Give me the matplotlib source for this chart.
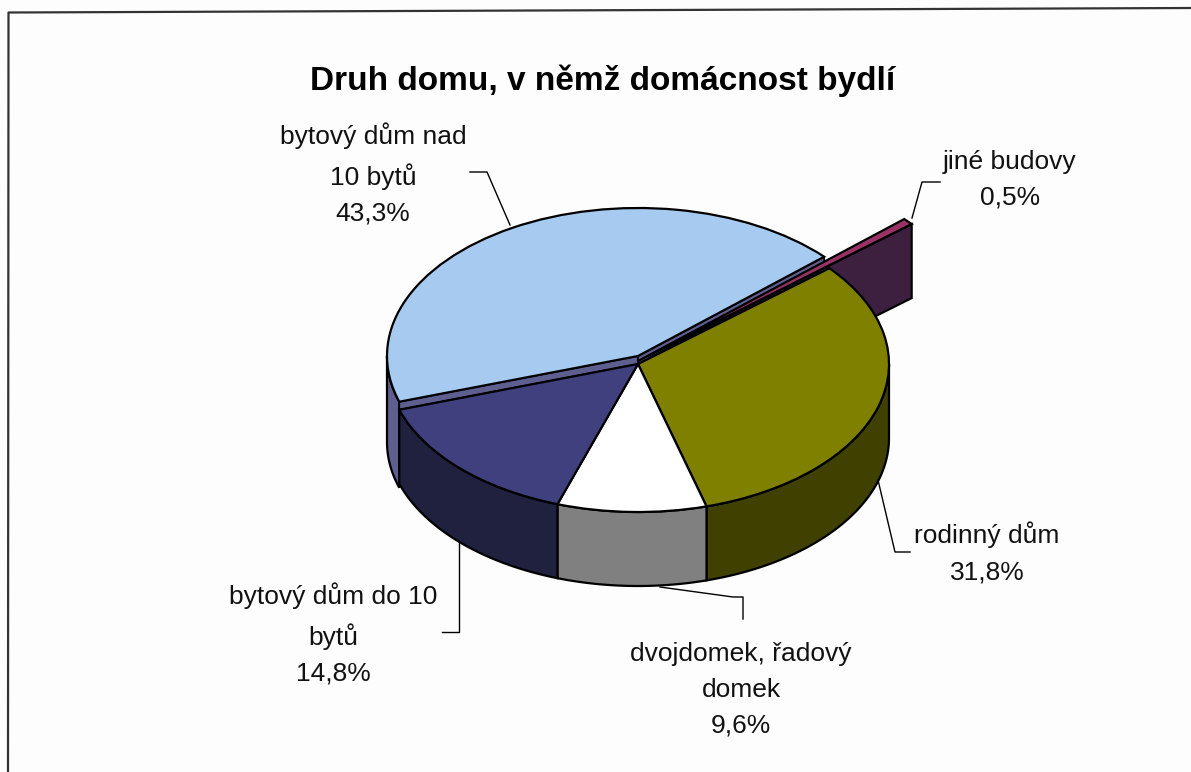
import numpy as np
from matplotlib import pyplot as plt
from matplotlib.lines import Line2D

title = 'Druh domu, v němž domácnost bydlí'
names = ['bytový dům nad\n10 bytů', 'jiné budovy', 'rodinný dům',
         'dvojdomek, řadový\ndomek', 'bytový dům do 10\nbytů']
shares = [43.3, 0.5, 31.8, 9.6, 14.8]
top_colors = ['#a6caf0', '#993366', '#808000', '#ffffff', '#40407f']
wall_colors = ['#5f5f8f', '#3d1f40', '#404000', '#808080', '#20203f']

W, H = 1191, 772
cx, cy = 638, 364       # pie centre, pixels
rx, ry = 251, 148       # pie radii, pixels
depth = 74 / ry
blue_lift = 8 / ry
sliver_lift = 3 / ry
sliver_r = 1.43


def fig_xy(px, py):
    return px / W, 1 - py / H


fig = plt.figure(figsize=(W / 100, H / 100), dpi=100, facecolor='#fdfdfd')
ax = fig.add_axes([0, 0, 1, 1])

wedges, _ = ax.pie(shares, startangle=198, counterclock=False, colors=top_colors,
                   wedgeprops={'edgecolor': 'black', 'linewidth': 1.6})
ax.set_aspect('auto')
ax.set_xlim(-cx / rx, (W - cx) / rx)
ax.set_ylim((cy - H) / ry, cy / ry)
ax.patch.set_visible(False)

blue, sliver = wedges[0], wedges[1]
blue.set_center((0, blue_lift))
sliver.set_center((0, sliver_lift))
sliver.set_radius(sliver_r)
for w in wedges:
    w.set_zorder(3)
sliver.set_zorder(4)


def front_arc(a, b, y0, d):
    # parts of the rim that face the viewer
    for lo, hi in [(-180, 0), (180, 360)]:
        s, e = max(a, lo), min(b, hi)
        if s < e:
            t = np.radians(np.linspace(s, e, 60))
            xs, ys = np.cos(t), np.sin(t) + y0
            yield (np.r_[xs, xs[::-1]], np.r_[ys, ys[::-1] - d])


for w, c in zip(wedges, wall_colors):
    if w is sliver:
        continue
    y0 = blue_lift if w is blue else 0
    d = depth + 12 / ry if w is blue else depth
    for xs, ys in front_arc(w.theta1, w.theta2, y0, d):
        ax.fill(xs, ys, facecolor=c, edgecolor='black', linewidth=1.6, zorder=2)

# slate bands under both straight edges of the light blue slice
for ang in [blue.theta1, blue.theta2]:
    t = np.radians(ang)
    ax.fill([0, np.cos(t), np.cos(t), 0], [0, np.sin(t), np.sin(t) + blue_lift, blue_lift],
            facecolor=wall_colors[0], edgecolor='black', linewidth=1.2, zorder=2.5)

# long side wall of the pulled out slice
t = np.radians(sliver.theta1)
ox, oy = sliver_r * np.cos(t), sliver_r * np.sin(t) + sliver_lift
ax.fill([0, ox, ox, 0], [sliver_lift, oy, oy - depth, sliver_lift - depth],
        facecolor=wall_colors[1], edgecolor='black', linewidth=1.6, zorder=1)

# frame, left and top only
frame = [((8, 772), (8.5, 12.5), (1191, 8))]
leaders = [
    ((510, 225), (487, 172), (470, 172)),
    ((912, 218), (922, 182), (940, 182)),
    ((878, 480), (895, 552), (910, 552)),
    ((660, 587), (733, 597), (743, 597), (743, 619)),
    ((459, 541), (459, 632), (442, 632)),
]
for pts in frame + leaders:
    xs, ys = zip(*[fig_xy(*p) for p in pts])
    lw = 1.6 if pts in frame else 1.0
    col = '#333333' if pts in frame else 'black'
    fig.add_artist(Line2D(xs, ys, color=col, linewidth=lw))

fig.text(*fig_xy(603, 81), title, ha='center', va='center', fontsize=24,
         fontweight='bold', family='Liberation Sans', color='black')

label_pos = [(373, 174), (1010, 180), (987, 553), (741, 690), (333, 634)]
for name, share, p in zip(names, shares, label_pos):
    txt = name + '\n' + f'{share:.1f}%'.replace('.', ',')
    fig.text(*fig_xy(*p), txt, ha='center', va='center', fontsize=19,
             family='Liberation Sans', color='#111111', linespacing=1.62)

fig.savefig('out.png', dpi=100, facecolor=fig.get_facecolor())
